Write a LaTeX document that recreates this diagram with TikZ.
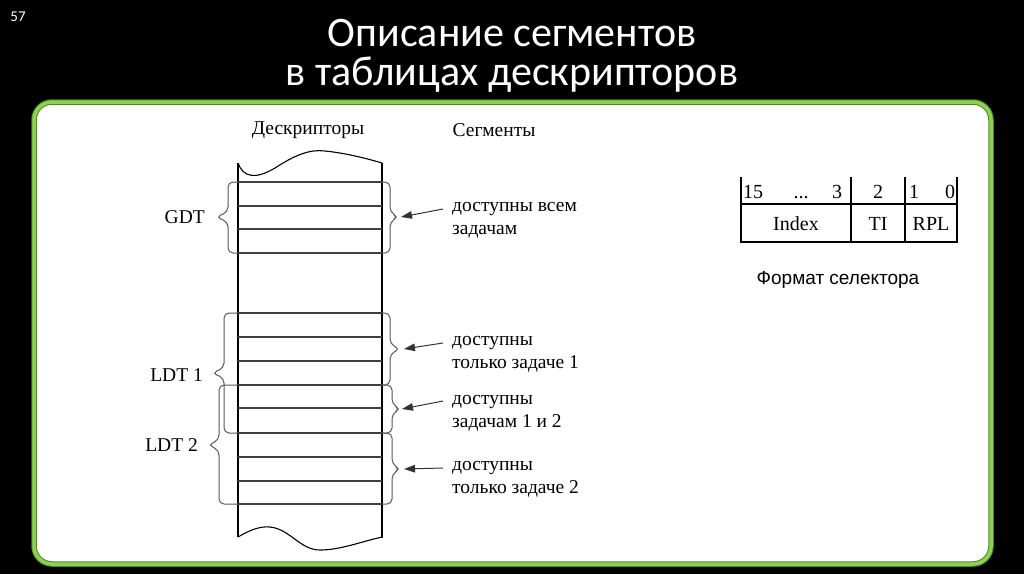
\documentclass[tikz,border=0pt]{standalone}
\usepackage{fontspec}
\setmainfont{Liberation Serif}
\newfontfamily\titlefont{Carlito}
\newfontfamily\sansfnt{Liberation Sans}
\usetikzlibrary{arrows.meta,calc}
\definecolor{framegreen}{HTML}{8CD152}
\definecolor{framedark}{HTML}{4E8A22}
\tikzset{
  colline/.style={draw=black, line width=1.1},
  rowline/.style={draw=black!75, line width=1.1},
  bracel/.style={draw=black!65, line width=1, rounded corners=5},
  arr/.style={draw=black!80, line width=1, -{Triangle[length=11,width=7.5]}},
  txt/.style={inner sep=0, font=\fontsize{19.5}{23}\selectfont, align=left, anchor=west},
  lbl/.style={inner sep=0, font=\fontsize{19.5}{23}\selectfont},
  tbl/.style={inner sep=0, font=\fontsize{20}{24}\selectfont, anchor=base},
}
\begin{document}
\begin{tikzpicture}[x=1pt,y=-1pt]
\useasboundingbox (0,0) rectangle (1024,574);
\fill[black] (0,0) rectangle (1024,574);
% frame
\draw[line width=5.5, draw=framedark, fill=white, rounded corners=18] (34,102) rectangle (991,564);
\draw[line width=3.5, draw=framegreen, rounded corners=18] (34,102) rectangle (991,564);
% titles
\node[white, inner sep=0, font=\titlefont\fontsize{15}{17}\selectfont] (num) at (18,17) {57};
\node[white, inner sep=0, font=\titlefont\fontsize{42}{48}\selectfont] (title1) at (512,33) {Описание сегментов};
\node[white, inner sep=0, font=\titlefont\fontsize{42}{48}\selectfont] (title2) at (512,75) {в таблицах дескрипторов};
% headers
\node[lbl] (hdesc) at (308,130) {Дескрипторы};
\node[lbl] (hseg) at (494,130) {Сегменты};
% column
\draw[colline] (238,163) -- (238,537);
\draw[colline] (382,163) -- (382,538);
\draw[colline] (238,163) .. controls (243,177) and (255,180) .. (275,168) .. controls (295,155) and (310,149) .. (325,151) .. controls (345,153) and (365,158) .. (382,163);
\draw[colline] (238,537) .. controls (250,530) and (260,526) .. (270,527) .. controls (290,529) and (300,550) .. (320,550) .. controls (340,550) and (360,542) .. (382,537);
\foreach \y in {182,206,229,253,313,337,361,385,408,433,457,481,504}
  \draw[rowline] (238,\y) -- (382,\y);
% left braces
\draw[bracel] (238,182) -- (228,182) -- (228,212) -- (216,217) -- (228,222) -- (228,253) -- (238,253);
\draw[bracel] (238,313) -- (224,313) -- (224,368) -- (212,373) -- (224,378) -- (224,433) -- (238,433);
\draw[bracel] (238,385) -- (219,385) -- (219,440) -- (208,445) -- (219,450) -- (219,504) -- (238,504);
% right braces
\coordinate (b1) at (398,217);
\coordinate (b2) at (400,349);
\coordinate (b3) at (400,409);
\coordinate (b4) at (400,469);
\draw[bracel] (382,182) -- (390,182) -- (390,212) -- (b1) -- (390,222) -- (390,253) -- (382,253);
\draw[bracel] (382,313) -- (390,313) -- (390,344) -- (b2) -- (390,354) -- (390,385) -- (382,385);
\draw[bracel] (382,385) -- (392,385) -- (392,404) -- (b3) -- (392,414) -- (392,433) -- (382,433);
\draw[bracel] (382,433) -- (392,433) -- (392,464) -- (b4) -- (392,474) -- (392,504) -- (382,504);
% labels
\node[lbl, anchor=east] (gdt) at (205,217) {GDT};
\node[lbl, anchor=east] (ldt1) at (203,375) {LDT 1};
\node[lbl, anchor=east] (ldt2) at (198,445) {LDT 2};
% segment texts
\node[txt] (s1) at (452,220) {доступны всем\\задачам};
\node[txt] (s2) at (452,354) {доступны\\только задаче 1};
\node[txt] (s3) at (452,413) {доступны\\задачам 1 и 2};
\node[txt] (s4) at (452,479) {доступны\\только задаче 2};
\coordinate (a1) at (443,209);
\coordinate (a2) at (443,343);
\coordinate (a3) at (443,401);
\coordinate (a4) at (443,468);
\draw[arr] (a1) -- ($(b1)+(3,0)$);
\draw[arr] (a2) -- ($(b2)+(4,0)$);
\draw[arr] (a3) -- ($(b3)+(2,0)$);
\draw[arr] (a4) -- ($(b4)+(4,0)$);
% selector table
\draw[colline] (741,177) -- (741,242) -- (957,242) -- (957,177);
\draw[colline] (741,204) -- (957,204);
\draw[colline] (851,177) -- (851,242);
\draw[colline] (905,177) -- (905,242);
\node[tbl] (n15) at (753,198) {15};
\node[tbl] (ndots) at (801,198) {...};
\node[tbl] (n3) at (837,198) {3};
\node[tbl] (n2) at (878,198) {2};
\node[tbl] (n1) at (914,198) {1};
\node[tbl] (n0) at (950,198) {0};
\node[tbl] (idx) at (796,230) {Index};
\node[tbl] (ti) at (878,230) {TI};
\node[tbl] (rpl) at (931,230) {RPL};
\node[inner sep=0, font=\sansfnt\fontsize{19}{22}\selectfont] (fmt) at (838,280) {Формат селектора};
\end{tikzpicture}
\end{document}
